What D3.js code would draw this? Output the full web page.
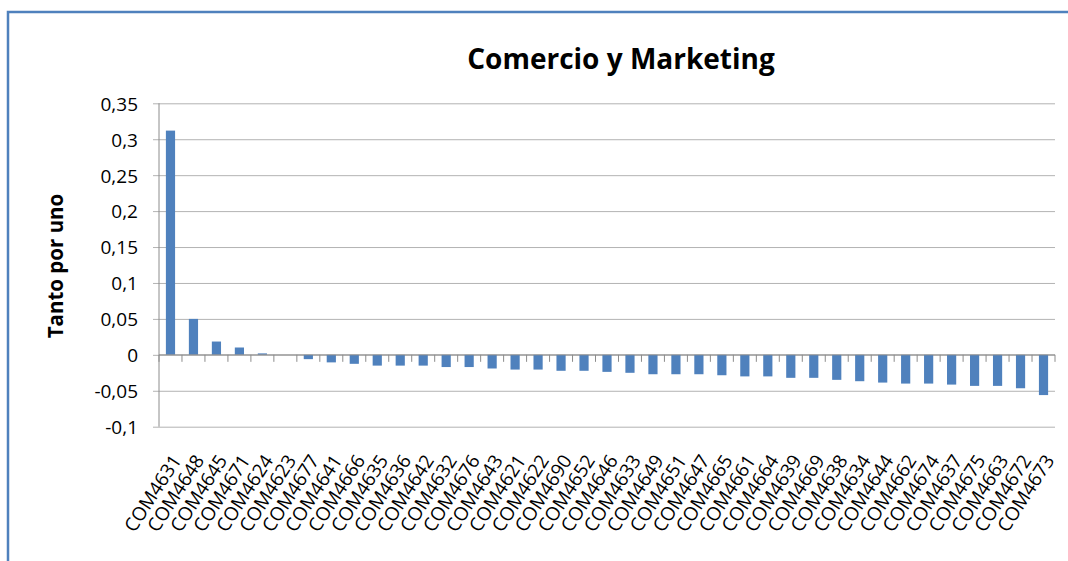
<!DOCTYPE html>
<html>
<head>
<meta charset="utf-8">
<script src="https://cdn.jsdelivr.net/npm/d3@7"></script>
<style>
  body { margin: 0; background: #fff; }
  text { font-family: "Open Sans", sans-serif; fill: #000; }
</style>
</head>
<body>
<svg id="chart"></svg>
<script>
// categories in the order they appear on the x axis
var categories = ["COM4631", "COM4648", "COM4645", "COM4671", "COM4624", "COM4623", "COM4677",
  "COM4641", "COM4666", "COM4635", "COM4636", "COM4642", "COM4632", "COM4676", "COM4643",
  "COM4621", "COM4622", "COM4690", "COM4652", "COM4646", "COM4633", "COM4649", "COM4651",
  "COM4647", "COM4665", "COM4661", "COM4664", "COM4639", "COM4669", "COM4638", "COM4634",
  "COM4644", "COM4662", "COM4674", "COM4637", "COM4675", "COM4663", "COM4672", "COM4673"]

// tanto por uno
var values = [0.312, 0.050, 0.0185, 0.0102, 0.002, 0, -0.006,
  -0.0105, -0.0125, -0.015, -0.015, -0.015, -0.017, -0.017, -0.019,
  -0.0205, -0.0205, -0.0222, -0.0222, -0.0237, -0.025, -0.027, -0.027,
  -0.027, -0.0284, -0.030, -0.030, -0.032, -0.032, -0.0348, -0.0367,
  -0.0386, -0.040, -0.040, -0.0414, -0.0432, -0.0432, -0.0465, -0.056]

var yTicks = [-0.1, -0.05, 0, 0.05, 0.1, 0.15, 0.2, 0.25, 0.3, 0.35]

var title = "Comercio y Marketing"
var yTitle = "Tanto por uno"

var width = 1068, height = 561
var margins = {left: 159, right: 13, top: 103.3, bottom: 134.3}
var barColor = "#4f81bd"
var gridColor = "#b3b3b3"

var svg = d3.select("#chart")
  .attr("width", width)
  .attr("height", height)

svg.append("rect").attr("width", width).attr("height", height).attr("fill", "#fff")

// chart frame (runs off the right and bottom of the picture)
svg.append("rect")
  .attr("x", 8).attr("y", 12)
  .attr("width", 1100).attr("height", 600)
  .attr("fill", "none")
  .attr("stroke", barColor)
  .attr("stroke-width", 2.5)

var xScale = d3.scaleBand()
  .domain(categories)
  .range([margins.left, width - margins.right])
  .paddingInner(0.6)
  .paddingOuter(0.3)

var yScale = d3.scaleLinear()
  .domain([-0.1, 0.35])
  .range([height - margins.bottom, margins.top])

var fmt = function(d) { return d3.format("~g")(+d.toFixed(2)).replace(".", ",").replace("−", "-") }

// gridlines + y axis
var yAxis = svg.append("g")
  .attr("transform", "translate(" + margins.left + ",0)")
  .call(d3.axisLeft(yScale)
    .tickValues(yTicks)
    .tickSize(-(width - margins.left - margins.right))
    .tickPadding(21)
    .tickFormat(fmt))

yAxis.select(".domain").remove()
yAxis.selectAll(".tick line")
  .attr("x1", -6)
  .attr("stroke", gridColor)
yAxis.selectAll(".tick text")
  .style("font-size", "19px")
  .attr("dy", "0.36em")

svg.append("line")
  .attr("x1", margins.left).attr("x2", margins.left)
  .attr("y1", yScale(-0.1)).attr("y2", yScale(0.35))
  .attr("stroke", "#8c8c8c")

// bars
svg.selectAll(".bar")
  .data(values)
  .enter().append("rect")
  .attr("class", "bar")
  .attr("x", function(d, i) { return xScale(categories[i]) })
  .attr("width", xScale.bandwidth())
  .attr("y", function(d) { return yScale(Math.max(0, d)) })
  .attr("height", function(d) { return Math.abs(yScale(d) - yScale(0)) })
  .attr("fill", barColor)

// category axis on zero line with tick marks between categories
var step = xScale.step()
var x0 = xScale(categories[0]) - xScale.paddingOuter() * step
svg.append("line")
  .attr("x1", margins.left).attr("x2", width - margins.right)
  .attr("y1", yScale(0)).attr("y2", yScale(0))
  .attr("stroke", "#8c8c8c")

svg.selectAll(".xtick")
  .data(d3.range(categories.length + 1))
  .enter().append("line")
  .attr("class", "xtick")
  .attr("x1", function(i) { return x0 + i * step })
  .attr("x2", function(i) { return x0 + i * step })
  .attr("y1", yScale(0))
  .attr("y2", yScale(0) + 7)
  .attr("stroke", "#8c8c8c")

// category labels at the bottom of the plot
svg.selectAll(".xlabel")
  .data(categories)
  .enter().append("text")
  .attr("class", "xlabel")
  .attr("text-anchor", "end")
  .attr("transform", function(d) {
    return "translate(" + (xScale(d) + xScale.bandwidth() / 2 + 6) + "," + (yScale(-0.1) + 30) + ") rotate(-57)"
  })
  .style("font-size", "19px")
  .attr("dy", "0.35em")
  .text(function(d) { return d })

// titles
svg.append("text")
  .attr("x", 621).attr("y", 69)
  .attr("text-anchor", "middle")
  .style("font-size", "28px")
  .style("font-weight", "bold")
  .text(title)

svg.append("text")
  .attr("transform", "translate(63,266) rotate(-90)")
  .attr("text-anchor", "middle")
  .style("font-size", "20.5px")
  .style("font-weight", "bold")
  .text(yTitle)
</script>
</body>
</html>
